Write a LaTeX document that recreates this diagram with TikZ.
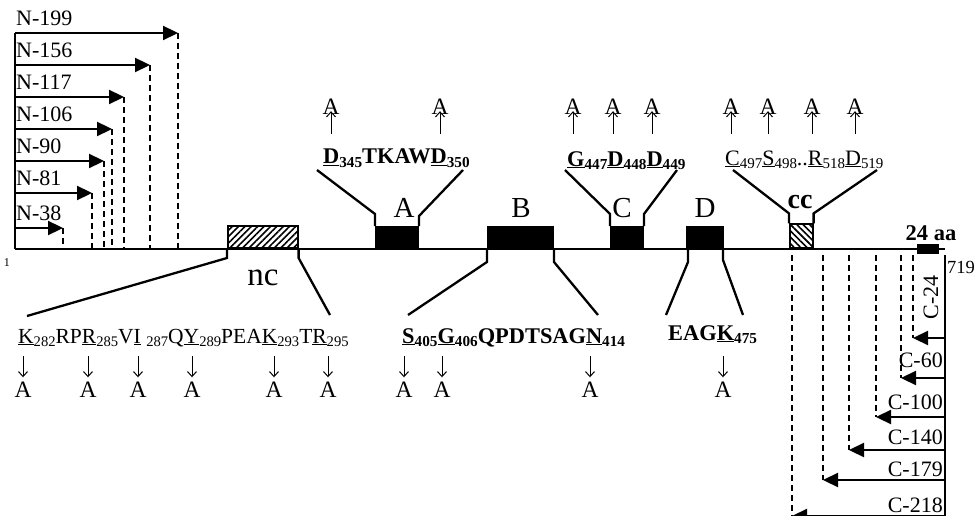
\documentclass[tikz,border=0pt]{standalone}
\usepackage{fontspec}
\setmainfont{Liberation Serif}
\usetikzlibrary{arrows.meta,patterns.meta}

% lowered, smaller residue numbers
\newcommand{\lo}[1]{\raisebox{-0.35ex}{\scalebox{0.68}{#1}}}
\newcommand{\ul}[1]{\underline{#1}}

\begin{document}
\begin{tikzpicture}[x=1pt,y=-1pt,
  bar/.style={line width=2.3pt},
  cut/.style={line width=1.7pt,dash pattern=on 6pt off 4pt},
  tri/.style={line width=2.3pt,-{Triangle[length=15pt,width=14pt]}},
  mut/.style={line width=1pt,-{Straight Barb[length=5pt,width=9pt]}},
  txt/.style={inner sep=0pt,font=\fontsize{22}{25}\selectfont},
  ala/.style={inner sep=0pt,anchor=base,font=\fontsize{23.5}{26}\selectfont},
  seqr/.style={inner sep=0pt,anchor=base west,font=\fontsize{21.5}{26}\selectfont},
  seqb/.style={inner sep=0pt,anchor=base west,font=\fontsize{22.4}{26}\selectfont\bfseries},
  dom/.style={inner sep=0pt,anchor=base,font=\fontsize{29}{30}\selectfont},
  solidbox/.style={fill=black,draw=black,line width=1pt,inner sep=0pt,anchor=south west,minimum height=22pt},
  hatchbox/.style={draw=black,line width=1.6pt,inner sep=0pt,anchor=south west,
    pattern={Lines[angle=#1,distance=4.5pt,line width=1.6pt]}},
]
\useasboundingbox (0,0) rectangle (974,516);

% ---- domain boxes on the protein line ----
\node[hatchbox=45,minimum width=70pt,minimum height=22pt] (dnc) at (227,249) {};
\node[solidbox,minimum width=43pt] (dA) at (375,249) {};
\node[solidbox,minimum width=66pt] (dB) at (487,249) {};
\node[solidbox,minimum width=33pt] (dC) at (610,249) {};
\node[solidbox,minimum width=37pt] (dD) at (686,249) {};
\node[hatchbox=-45,minimum width=23pt,minimum height=24pt] (dcc) at (789,249) {};
\node[fill=black,inner sep=0pt,minimum width=22pt,minimum height=10pt,anchor=west] (d24) at (917,249) {};

% ---- protein line ----
\coordinate (p1) at (15,249);
\coordinate (p719) at (945,249);
\draw[bar] (p1) -- (p719);
\node[inner sep=0pt,font=\fontsize{12}{14}\selectfont] (n1) at (7,263) {1};
\node[inner sep=0pt,font=\fontsize{18.5}{20}\selectfont] (n719) at (961,267) {719};
\node[inner sep=0pt,anchor=base,font=\fontsize{22.5}{26}\selectfont\bfseries] (l24) at (931,240) {24 aa};

% ---- domain labels ----
\node[dom] (lA) at (404,217) {A};
\node[dom] (lB) at (521,217) {B};
\node[dom] (lC) at (622,217) {C};
\node[dom] (lD) at (705,217) {D};
\node[inner sep=0pt,anchor=base,font=\fontsize{28}{30}\selectfont\bfseries] (lcc) at (800,208) {cc};
\node[inner sep=0pt,anchor=base,font=\fontsize{33}{34}\selectfont] (lnc) at (263,285) {nc};

% ---- funnel lines to the sequences ----
\coordinate (fA1) at (317,170);  \coordinate (fA2) at (463,170);
\coordinate (fC1) at (565,170);  \coordinate (fC2) at (677,170);
\coordinate (fcc1) at (733,170); \coordinate (fcc2) at (877,170);
\coordinate (fnc1) at (27,316);  \coordinate (fnc2) at (330,315);
\coordinate (fB1) at (408,315);  \coordinate (fB2) at (598,315);
\coordinate (fD1) at (666,315);  \coordinate (fD2) at (743,315);

\draw[bar] (dA.north west) -- ++(0,-12) -- (fA1);
\draw[bar] (dA.north east) -- ++(0,-10) -- (fA2);
\draw[bar] (dC.north west) -- ++(0,-12) -- (fC1);
\draw[bar] (dC.north east) -- ++(0,-12) -- (fC2);
\draw[bar] (dcc.north west) -- ++(0,-10) -- (fcc1);
\draw[bar] (dcc.north east) -- ++(0,-10) -- (fcc2);
\draw[bar] (dnc.south west) -- ++(0,9) -- (fnc1);
\draw[bar] (dnc.south east) -- ++(0,9) -- (fnc2);
\draw[bar] (dB.south west) -- ++(0,13) -- (fB1);
\draw[bar] (dB.south east) -- ++(0,13) -- (fB2);
\draw[bar] ([xshift=2pt]dD.south west) -- ++(0,13) -- (fD1);
\draw[bar] ([xshift=-1pt]dD.south east) -- ++(0,11) -- (fD2);

% ---- sequences ----
\node[seqb] (sA) at (323,164) {\ul{D}\lo{345}TKAW\ul{D}\lo{350}};
\node[seqb] (sC) at (567,166) {\ul{G}\lo{447}\ul{D}\lo{448}\ul{D}\lo{449}};
\node[seqr,font=\fontsize{22}{26}\selectfont] (scc) at (725,165) {\ul{C}\lo{497}\ul{S}\lo{498}..\ul{R}\lo{518}\ul{D}\lo{519}};
\node[seqr] (snc) at (18,343) {\ul{K}\lo{282}RP\ul{R}\lo{285}V\ul{I} \lo{287}Q\ul{Y}\lo{289}PEA\ul{K}\lo{293}T\ul{R}\lo{295}};
\node[seqb] (sB) at (402,343) {\ul{S}\lo{405}\ul{G}\lo{406}QPDTSAG\ul{N}\lo{414}};
\node[seqb] (sD) at (668,340) {EAG\ul{K}\lo{475}};

% ---- alanine substitutions above ----
\foreach \x in {331,440,573,613,652,731,768,812,855} {
  \node[ala] (uA\x) at (\x,114) {A};
  \coordinate (ut\x) at (\x,134);
  \draw[mut] (ut\x) -- ([yshift=3pt]uA\x.south);
}
% ---- alanine substitutions below ----
\foreach \x in {23,88,138,192,274,328,404,442,590,723} {
  \node[ala] (dA\x) at (\x,397) {A};
  \coordinate (dt\x) at (\x,356);
  \draw[mut] (dt\x) -- ([yshift=4pt]dA\x.north);
}

% ---- N-terminal deletions ----
\coordinate (nTop) at (15,33);
\draw[bar] (nTop) -- (p1);
\foreach \y/\t/\lab in {33/178/199,65/150/156,97/124/117,129/112/106,161/104/90,193/92/81,228/63/38} {
  \coordinate (ns\lab) at (15,\y);
  \coordinate (ne\lab) at (\t,\y);
  \coordinate (nb\lab) at (\t,249);
  \draw[tri] (ns\lab) -- (ne\lab);
  \draw[cut] (ne\lab) -- (nb\lab);
  \node[txt,anchor=west] (nl\lab) at (16,\y-15) {N-\lab};
}

% ---- C-terminal deletions ----
\coordinate (cTop) at (945,255);
\coordinate (cBot) at (945,516);
\draw[bar] (cTop) -- (cBot);
\foreach \y/\t/\lab in {338/913/24,378/901/60,417/876/100,450/849/140,480/823/179,516/792/218} {
  \coordinate (cs\lab) at (945,\y);
  \coordinate (ce\lab) at (\t,\y);
  \coordinate (ct\lab) at (\t,255);
  \draw[cut] (ct\lab) -- (ce\lab);
  \draw[tri] (cs\lab) -- (ce\lab);
}
\node[txt,rotate=90] (cl24) at (931,297) {C-24};
\node[txt,anchor=east] (cl60) at (943,360) {C-60};
\node[txt,anchor=east] (cl100) at (943,402) {C-100};
\node[txt,anchor=east] (cl140) at (943,437) {C-140};
\node[txt,anchor=east] (cl179) at (943,469) {C-179};
\node[txt,anchor=east] (cl218) at (943,505) {C-218};
\end{tikzpicture}
\end{document}
